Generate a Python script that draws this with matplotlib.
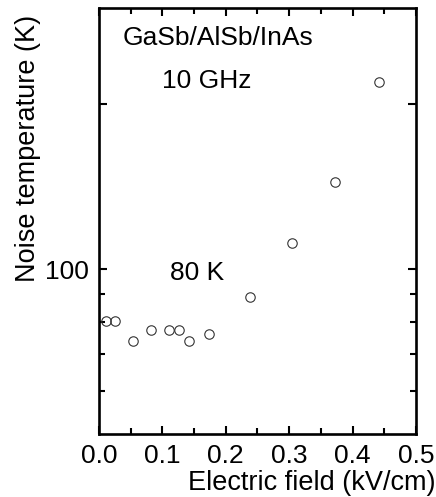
import numpy as np
import matplotlib.pyplot as plt
from matplotlib.ticker import FixedLocator, FixedFormatter, MultipleLocator, NullFormatter

plt.rcParams['font.family'] = ['Liberation Sans', 'DejaVu Sans']

# data
field = [0.011, 0.025, 0.054, 0.082, 0.111, 0.127, 0.142, 0.174, 0.239, 0.305, 0.373, 0.442]
tnoise = [80.5, 80.5, 74.0, 77.4, 77.4, 77.4, 74.0, 76.1, 89.1, 111.6, 144.5, 219.6]
xticks = [0.0, 0.1, 0.2, 0.3, 0.4, 0.5]
xticklabels = ['0.0', '0.1', '0.2', '0.3', '0.4', '0.5']

fig = plt.figure(figsize=(4.36, 4.97), dpi=100)
ax = fig.add_axes([0.227, 0.127, 0.727, 0.857])

ax.plot(field, tnoise, 'o', ms=6.8, mfc='none', mec='#333333', mew=0.8)

ax.set_yscale('log')
ax.set_xlim(0.0, 0.5)
ax.set_ylim(50, 300)

ax.xaxis.set_major_locator(FixedLocator(xticks))
ax.xaxis.set_major_formatter(FixedFormatter(xticklabels))
ax.xaxis.set_minor_locator(MultipleLocator(0.05))
ax.yaxis.set_major_locator(FixedLocator([100, 200]))
ax.yaxis.set_major_formatter(FixedFormatter(['100', '']))
ax.yaxis.set_minor_locator(FixedLocator([60, 70, 80, 90]))
ax.yaxis.set_minor_formatter(NullFormatter())

ax.tick_params(which='both', direction='in', top=True, right=True, width=1.5, labelsize=19, pad=7)
ax.tick_params(which='major', length=6)
ax.tick_params(which='minor', length=4)
for s in ax.spines.values():
    s.set_linewidth(1.9)

ax.set_ylabel('Noise temperature (K)', fontsize=19.5)
ax.yaxis.set_label_coords(-0.182, 0.669)
ax.set_xlabel('Electric field (kV/cm)', fontsize=19.5)
ax.xaxis.set_label_coords(1.063, -0.085)
ax.xaxis.label.set_ha('right')

ax.text(0.075, 0.913, 'GaSb/AlSb/InAs', transform=ax.transAxes, fontsize=19, va='baseline')
ax.text(0.2, 0.812, '10 GHz', transform=ax.transAxes, fontsize=19, va='baseline')
ax.text(0.225, 0.3615, '80 K', transform=ax.transAxes, fontsize=19, va='baseline')

fig.savefig('out.png', dpi=100)
